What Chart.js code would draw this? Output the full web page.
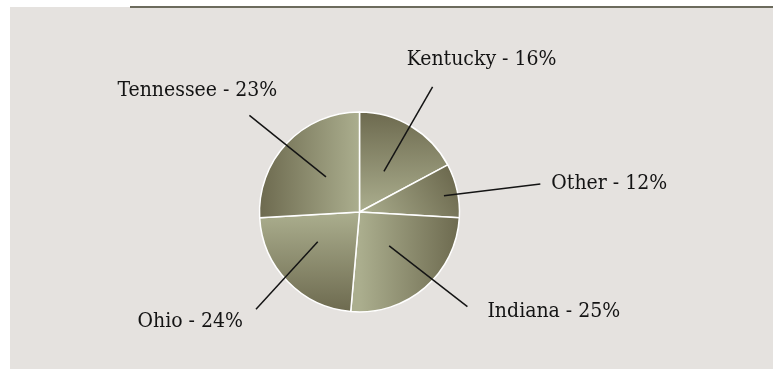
<!DOCTYPE html>
<html><head><meta charset="utf-8">
<script src="https://cdn.jsdelivr.net/npm/chart.js"></script>
<style>
html,body{margin:0;padding:0;background:#ffffff;width:773px;height:369px;overflow:hidden;}
#bg{position:absolute;left:10px;top:7px;width:763px;height:362px;background:#e5e2df;}
#rule{position:absolute;left:130px;top:6px;width:643px;height:2px;background:#6c6b5d;}
#wrap{position:absolute;left:0;top:0;width:773px;height:369px;}
</style></head>
<body>
<div id="bg"></div><div id="rule"></div>
<div id="wrap"><canvas id="c"></canvas></div>
<script>
// Categories, in drawing order (clockwise from 12 o'clock)
const categories = ['Kentucky', 'Other', 'Indiana', 'Ohio', 'Tennessee'];
// Slice sizes as drawn in the picture (percent of the circle)
const sliceValues = [17.2, 8.7, 25.5, 22.7, 25.9];
// Percentages printed in the labels
const labelPercents = [16, 12, 25, 24, 23];

// Styling / label layout (not data)
const DARK = '#6d6a4f', LIGHT = '#abae8e';
const gradientDir = [0, 60, 90, 180, 270];   // degrees clockwise from top: direction of the dark end
const labelLayout = [
  {inR: 47.5, inDA: 0,    outR: 145, outDA: -0.7, align: 'center', dx: 49,  dy: -22},
  {inR: 86,   inDA: 1.5,  outR: 183, outDA: 3.6,  align: 'left',   dx: 11,  dy: 5},
  {inR: 45,   inDA: -0.4, outR: 143.5, outDA: -7.9, align: 'left', dx: 20,  dy: 10},
  {inR: 51.3, inDA: 8.6,  outR: 142, outDA: 0.9,  align: 'right',  dx: -13, dy: 18},
  {inR: 48.5, inDA: 2.9,  outR: 146.5, outDA: -2.1, align: 'center', dx: -52, dy: -19}
];
const RADIUS = 100;

function sliceGradient(context) {
  const chart = context.chart;
  const ca = chart.chartArea;
  if (!ca) return LIGHT;
  const cx = (ca.left + ca.right) / 2, cy = (ca.top + ca.bottom) / 2;
  const a = gradientDir[context.dataIndex] * Math.PI / 180;
  const g = chart.ctx.createLinearGradient(cx, cy, cx + RADIUS * Math.sin(a), cy - RADIUS * Math.cos(a));
  g.addColorStop(0, LIGHT);
  g.addColorStop(1, DARK);
  return g;
}

const leaderLabels = {
  id: 'leaderLabels',
  afterDatasetsDraw(chart) {
    const ctx = chart.ctx;
    const meta = chart.getDatasetMeta(0);
    ctx.save();
    ctx.font = '21px "DejaVu Serif Condensed", "DejaVu Serif", serif';
    ctx.fillStyle = '#141414';
    ctx.strokeStyle = '#141414';
    ctx.lineWidth = 1.5;
    ctx.textBaseline = 'alphabetic';
    meta.data.forEach((arc, i) => {
      const L = labelLayout[i];
      const mid = (arc.startAngle + arc.endAngle) / 2;
      const ai = mid + L.inDA * Math.PI / 180;
      const ao = mid + L.outDA * Math.PI / 180;
      const x1 = arc.x + L.inR * Math.cos(ai), y1 = arc.y + L.inR * Math.sin(ai);
      const x2 = arc.x + L.outR * Math.cos(ao), y2 = arc.y + L.outR * Math.sin(ao);
      ctx.beginPath(); ctx.moveTo(x1, y1); ctx.lineTo(x2, y2); ctx.stroke();
      ctx.textAlign = L.align;
      ctx.fillText(categories[i] + ' - ' + labelPercents[i] + '%', x2 + L.dx, y2 + L.dy);
    });
    ctx.restore();
  }
};

new Chart(document.getElementById('c'), {
  type: 'pie',
  data: {
    labels: categories,
    datasets: [{
      data: sliceValues,
      backgroundColor: sliceGradient,
      borderColor: '#ffffff',
      borderWidth: 1.5,
      radius: RADIUS
    }]
  },
  options: {
    responsive: true,
    maintainAspectRatio: false,
    animation: false,
    layout: {padding: {left: 0, right: 54, top: 55, bottom: 0}},
    plugins: {legend: {display: false}, tooltip: {enabled: false}, title: {display: false}},
    events: []
  },
  plugins: [leaderLabels]
});
</script>
</body></html>
